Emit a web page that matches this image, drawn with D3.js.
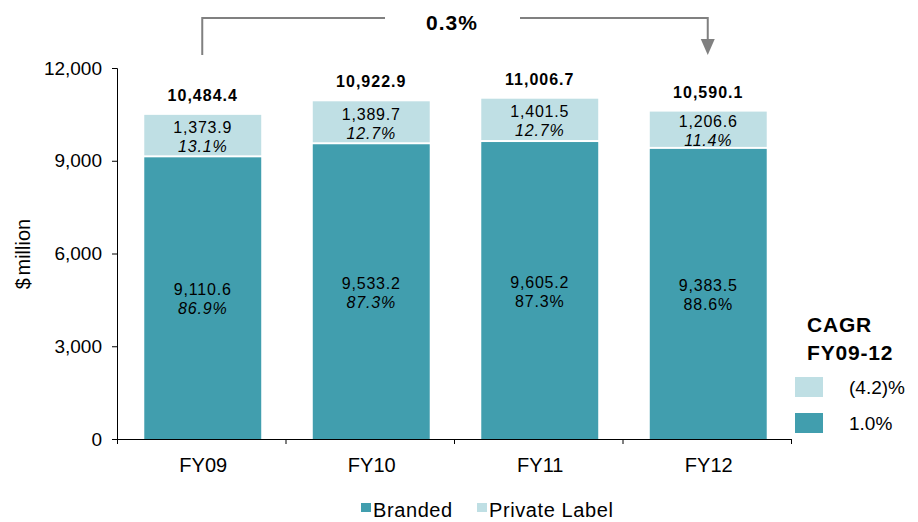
<!DOCTYPE html>
<html lang="en">
<head>
    <meta charset="UTF-8">
    <title>Branded vs Private Label</title>
    <script src="https://d3js.org/d3.v7.min.js"></script>
    <style>
        body {
            margin: 0;
            font-family: Arial, "Liberation Sans", sans-serif;
            background: #fff;
        }
        svg {
            display: block;
        }
        .axis text {
            font-family: Arial, "Liberation Sans", sans-serif;
            font-size: 19px;
            fill: #000;
        }
    </style>
</head>
<body>
<div id="container"></div>
<script>
    // data
    const years = ['FY09', 'FY10', 'FY11', 'FY12'];
    const branded = [9110.6, 9533.2, 9605.2, 9383.5];
    const privateLabel = [1373.9, 1389.7, 1401.5, 1206.6];
    const totals = [10484.4, 10922.9, 11006.7, 10590.1];
    const brandedShare = ['86.9%', '87.3%', '87.3%', '88.6%'];
    const brandedShareItalic = [true, true, false, false];
    const privateShare = ['13.1%', '12.7%', '12.7%', '11.4%'];
    const yTicks = [0, 3000, 6000, 9000, 12000];
    const overallCagr = '0.3%';
    const cagrTitle = ['CAGR', 'FY09-12'];
    const cagrValues = ['(4.2)%', '1.0%'];
    const seriesNames = ['Branded', 'Private Label'];

    const colBranded = '#419eae';
    const colPrivate = '#bfdfe4';

    const width = 918, height = 522;
    const plotLeft = 117, plotRight = 791, plotTop = 68, plotBottom = 439;

    const svg = d3.select('#container').append('svg')
        .attr('width', width)
        .attr('height', height);

    const x = d3.scaleBand()
        .domain(years)
        .range([plotLeft, plotRight])
        .paddingInner(0.3)
        .paddingOuter(0.15);

    const y = d3.scaleLinear()
        .domain([0, 12000])
        .range([plotBottom, plotTop]);

    const fmt = d3.format(',.1f');

    // bars
    const g = svg.append('g');
    years.forEach((yr, i) => {
        const bx = x(yr) + 2;
        const bw = x.bandwidth() - 1;
        g.append('rect')
            .attr('x', bx)
            .attr('y', y(branded[i]))
            .attr('width', bw)
            .attr('height', y(0) - y(branded[i]))
            .attr('fill', colBranded);
        g.append('rect')
            .attr('x', bx)
            .attr('y', y(totals[i]))
            .attr('width', bw)
            .attr('height', y(branded[i]) - y(totals[i]) - 2)
            .attr('fill', colPrivate);

        const cx = bx + bw / 2;
        const midB = (y(0) + y(branded[i])) / 2;
        const midP = (y(branded[i]) + y(totals[i])) / 2;

        const lbl = (ty, txt, italic) => g.append('text')
            .attr('x', cx).attr('y', ty)
            .attr('text-anchor', 'middle')
            .style('font-size', '16px')
            .style('letter-spacing', '0.8px')
            .style('font-style', italic ? 'italic' : 'normal')
            .text(txt);

        lbl(midB - 3, fmt(branded[i]), false);
        lbl(midB + 16, brandedShare[i], brandedShareItalic[i]);
        lbl(midP - 3, fmt(privateLabel[i]), false);
        lbl(midP + 16, privateShare[i], true);

        g.append('text')
            .attr('x', cx).attr('y', y(totals[i]) - 14)
            .attr('text-anchor', 'middle')
            .style('font-size', '16px')
            .style('letter-spacing', '1px')
            .style('font-weight', 'bold')
            .text(fmt(totals[i]));
    });

    // y axis
    svg.append('g')
        .attr('class', 'axis')
        .attr('transform', `translate(${plotLeft},0)`)
        .call(d3.axisLeft(y).tickValues(yTicks).tickSize(5).tickPadding(10).tickFormat(d3.format(',')))
        .call(a => a.selectAll('path, line').attr('stroke', '#000'));

    // x axis: ticks between categories
    const xEdge = d3.scaleLinear().domain([0, years.length]).range([plotLeft, plotRight]);
    svg.append('g')
        .attr('class', 'axis')
        .attr('transform', `translate(0,${plotBottom})`)
        .call(d3.axisBottom(xEdge).tickValues(d3.range(years.length + 1)).tickSize(5).tickSizeOuter(5).tickFormat(''))
        .call(a => a.selectAll('path, line').attr('stroke', '#000'));

    svg.append('g')
        .selectAll('text')
        .data(years)
        .join('text')
        .attr('x', d => x(d) + x.bandwidth() / 2 + 2)
        .attr('y', 472)
        .attr('text-anchor', 'middle')
        .style('font-size', '20px')
        .text(d => d);

    // y title
    svg.append('text')
        .attr('transform', 'translate(30,254) rotate(-90)')
        .attr('text-anchor', 'middle')
        .style('font-size', '20px')
        .style('word-spacing', '-3px')
        .text('$ million');

    // CAGR bracket
    const x0 = x(years[0]) + x.bandwidth() / 2 + 1;
    const x3 = x(years[3]) + x.bandwidth() / 2 + 1;
    const lineY = 18;
    const bracket = svg.append('g').attr('stroke', '#808080').attr('stroke-width', 2).attr('fill', 'none');
    bracket.append('path').attr('d', `M${x0},55 V${lineY} H385`);
    bracket.append('path').attr('d', `M520,${lineY} H${x3} V40`);
    svg.append('path')
        .attr('d', `M${x3 - 7},39 L${x3 + 7},39 L${x3},55 Z`)
        .attr('fill', '#808080');
    svg.append('text')
        .attr('x', 452).attr('y', 30)
        .attr('text-anchor', 'middle')
        .style('font-size', '21px')
        .style('letter-spacing', '1px')
        .style('font-weight', 'bold')
        .text(overallCagr);

    // right legend
    svg.append('g')
        .selectAll('text')
        .data(cagrTitle)
        .join('text')
        .attr('x', 807)
        .attr('y', (d, i) => 332 + i * 28)
        .style('font-size', '21px')
        .style('letter-spacing', '0.8px')
        .style('font-weight', 'bold')
        .text(d => d);

    const legCols = [colPrivate, colBranded];
    cagrValues.forEach((v, i) => {
        svg.append('rect')
            .attr('x', 795).attr('y', 377 + i * 36)
            .attr('width', 28).attr('height', 20)
            .attr('fill', legCols[i]);
        svg.append('text')
            .attr('x', 849).attr('y', 394 + i * 36)
            .style('font-size', '19px')
            .text(v);
    });

    // bottom legend
    const bl = [{ name: seriesNames[0], col: colBranded, x: 361 }, { name: seriesNames[1], col: colPrivate, x: 477 }];
    bl.forEach(d => {
        svg.append('rect')
            .attr('x', d.x).attr('y', 503)
            .attr('width', 10).attr('height', 9)
            .attr('fill', d.col);
        svg.append('text')
            .attr('x', d.x + 12).attr('y', 517)
            .style('font-size', '20px')
            .style('letter-spacing', '0.6px')
            .text(d.name);
    });
</script>
</body>
</html>
